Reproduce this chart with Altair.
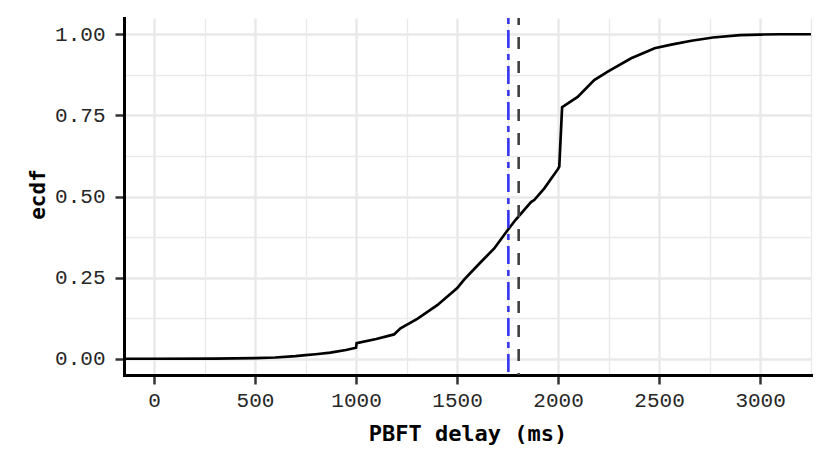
import altair as alt
import pandas as pd

# ECDF curve (PBFT delay in ms, cumulative share)
delay_ms = [-148.5, 6, 300, 400, 500, 600, 700, 750, 800, 873, 950, 1000, 1003,
            1100, 1188, 1220, 1303, 1402, 1501, 1535, 1618, 1684, 1750, 1791,
            1866, 1882, 1932, 2000, 2006, 2020, 2097, 2179, 2246, 2362, 2478,
            2560, 2660, 2767, 2900, 3000, 3097, 3252]
ecdf = [0.0, 0.0, 0.0005, 0.001, 0.002, 0.004, 0.008, 0.011, 0.014, 0.019, 0.027,
        0.034, 0.048, 0.061, 0.075, 0.094, 0.123, 0.165, 0.218, 0.244, 0.298,
        0.34, 0.396, 0.429, 0.483, 0.489, 0.525, 0.585, 0.592, 0.775, 0.807,
        0.859, 0.885, 0.926, 0.957, 0.968, 0.98, 0.99, 0.997, 0.999, 1.0, 1.0]

# reference lines
blue_line_ms = [1754]
grey_line_ms = [1805]

x_ticks = [0, 250, 500, 750, 1000, 1250, 1500, 1750, 2000, 2250, 2500, 2750, 3000, 3250]
y_ticks = [0, 0.125, 0.25, 0.375, 0.5, 0.625, 0.75, 0.875, 1.0]
x_domain = [-148.5, 3252]
y_domain = [-0.05, 1.05]

curve = pd.DataFrame({"delay": delay_ms, "ecdf": ecdf})
blue_df = pd.DataFrame({"delay": blue_line_ms})
grey_df = pd.DataFrame({"delay": grey_line_ms})

x_major = "datum.value % 500 === 0"
y_major = "abs(datum.value * 4 - round(datum.value * 4)) < 0.000001"

common_axis = dict(
    grid=True,
    gridColor="#E9E9E9",
    domain=True,
    domainColor="#000000",
    domainWidth=3,
    domainCap="square",
    tickColor="#333333",
    tickWidth=2.5,
    tickSize=9,
    labelFont="Liberation Mono",
    labelFontSize=21,
    labelColor="#262626",
    labelOverlap=False,
    labelFlush=False,
    titleFont="DejaVu Sans Mono",
    titleFontWeight="bold",
    titleColor="#000000",
)

x_axis = alt.Axis(
    values=x_ticks,
    format="d",
    labelExpr=f"({x_major}) ? datum.label : ''",
    gridWidth={"condition": {"test": x_major, "value": 2.4}, "value": 1.3},
    tickOpacity={"condition": {"test": x_major, "value": 1}, "value": 0},
    labelPadding=5,
    title="PBFT delay (ms)",
    titleFontSize=22,
    titleBaseline="alphabetic",
    titleY=65,
    **common_axis,
)

y_axis = alt.Axis(
    values=y_ticks,
    format=".2f",
    labelExpr=f"({y_major}) ? datum.label : ''",
    gridWidth={"condition": {"test": y_major, "value": 2.4}, "value": 1.3},
    tickOpacity={"condition": {"test": y_major, "value": 1}, "value": 0},
    labelPadding=10,
    title="ecdf",
    titleFontSize=21,
    titleBaseline="alphabetic",
    titleAngle=270,
    titleX=-80,
    titleY=176,
    **common_axis,
)

line = alt.Chart(curve).mark_line(color="#000000", strokeWidth=2.7, clip=True).encode(
    x=alt.X("delay:Q", scale=alt.Scale(domain=x_domain, nice=False, zero=False), axis=x_axis),
    y=alt.Y("ecdf:Q", scale=alt.Scale(domain=y_domain, nice=False, zero=False), axis=y_axis),
)

blue_rule = alt.Chart(blue_df).mark_rule(
    color="#3535F0", strokeWidth=2.6, strokeDash=[6, 6, 18, 6]
).encode(x="delay:Q")

grey_rule = alt.Chart(grey_df).mark_rule(
    color="#404040", strokeWidth=2.6, strokeDash=[12, 12], strokeDashOffset=5
).encode(x="delay:Q")

chart = (
    alt.layer(line, blue_rule, grey_rule)
    .properties(
        width=687,
        height=357,
        autosize=alt.AutoSizeParams(type="none"),
        padding={"left": 116, "top": 10, "right": 11, "bottom": 82},
        background="#FFFFFF",
    )
    .configure_view(stroke=None)
)

chart.save("out.html", embed_options={"renderer": "svg", "actions": False})
